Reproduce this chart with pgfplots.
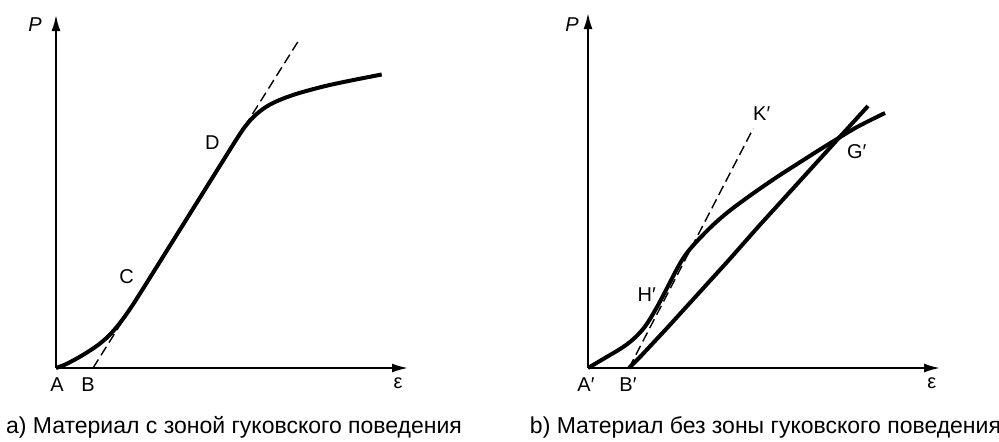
\documentclass[border=0pt]{standalone}
\usepackage{fontspec}
\setmainfont{Liberation Sans}
\usepackage{pgfplots}
\pgfplotsset{compat=1.18}
\usetikzlibrary{arrows.meta}

\tikzset{captext/.style={anchor=base, font=\fontsize{11.5}{13}\selectfont}}

\pgfplotsset{
  diagram/.style={
    x=0.5pt, y=0.5pt,
    xmin=0, ymin=0,
    enlargelimits=false,
    axis x line=bottom, axis y line=left,
    axis line style={line width=1pt, -{Latex[length=8pt,width=4.5pt]}},
    xtick=\empty, ytick=\empty,
    clip=false,
    anchor=south west,
    every node/.style={font=\fontsize{11}{13}\selectfont},
  },
  thickcurve/.style={black, line width=2pt, no markers},
  tangent/.style={black, line width=0.7pt, dash pattern=on 5pt off 2.5pt, no markers},
}

\begin{document}
\begin{tikzpicture}
\path[use as bounding box] (0,0) rectangle (499.5pt,220.5pt);

% a) material with a Hookean zone
\begin{axis}[diagram, at={(28pt,36.5pt)}, xmax=352, ymax=353]
  \addplot[tangent] coordinates {(37,0) (243,328)};
  \addplot[thickcurve, smooth, tension=0.6] coordinates {
    (0,0) (9,3.4) (17.3,7.6) (26,12.5) (34,17.5) (42,23) (50.7,30.2)
    (59,39) (67.3,49.5) (76,62) (84,74.5) (95,92) (110,116)
    (140,164) (175,220) (181,229.5) (187.3,239) (195,248.5)
    (203,256) (210.7,261.5) (218,265.5) (227.3,269.5) (235,272.3)
    (244,275.2) (260.7,279.8) (277.3,283.8) (300,288.5) (325.7,293.5)};
  \node at (axis cs:-21,343) {\textit{P}};
  \node at (axis cs:1,-17) {A};
  \node at (axis cs:32,-17) {B};
  \node at (axis cs:342,-15) {ε};
  \node at (axis cs:70.7,91.3) {C};
  \node at (axis cs:156.3,225.3) {D};
  \node[captext] at (axis cs:178,-65.3)
    {а) Материал с зоной гуковского поведения};
\end{axis}

% b) material without a Hookean zone
\begin{axis}[diagram, at={(294pt,36.5pt)}, xmax=352, ymax=355]
  \addplot[tangent] coordinates {(41,0) (165.3,239.7)};
  \addplot[thickcurve, smooth, tension=0.6] coordinates {
    (0,0) (11,6.5) (22,13) (30,17.7) (38.7,23.5) (46,29.5) (52,35.5)
    (57,41.5) (62,49) (67,57.5) (72,66.5) (78,78) (85,91.5) (90,101)
    (95,109.5) (100,116.5) (106,123.5) (112,130) (125,143) (140,156)
    (158,169.5) (175,181.5) (192,193) (210,204.5) (228,216) (249,229)
    (270,241.5) (297,255)};
  \addplot[thickcurve] coordinates {
    (41,0) (52,11) (80,41) (110,74) (140,107) (170,141)
    (200,174) (230,207) (249,228) (280,262)};
  \node at (axis cs:-16,343) {\textit{P}};
  \node at (axis cs:-2,-17) {A′};
  \node at (axis cs:40,-17) {B′};
  \node at (axis cs:343.7,-15) {ε};
  \node at (axis cs:58.7,73) {H′};
  \node at (axis cs:173.7,254.7) {K′};
  \node at (axis cs:268.7,216.3) {G′};
  \node[captext] at (axis cs:177.5,-65.3)
    {b) Материал без зоны гуковского поведения};
\end{axis}
\end{tikzpicture}
\end{document}
